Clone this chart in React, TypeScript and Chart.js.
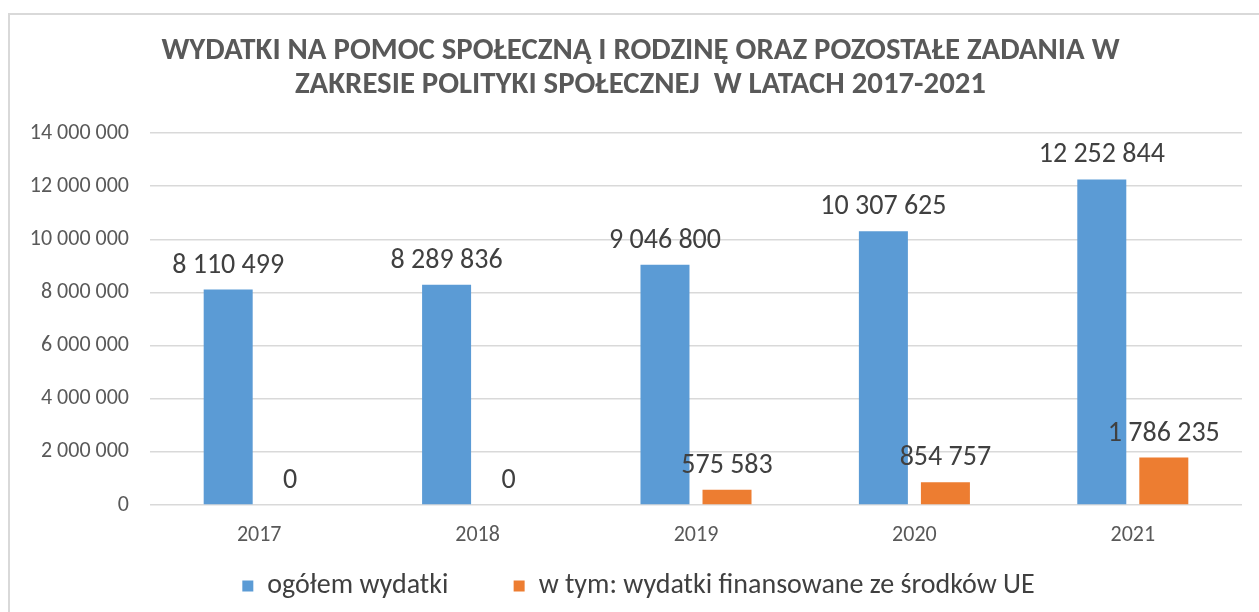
import React, { useEffect, useRef } from "react";
import { Chart, registerables } from "chart.js";

Chart.register(...registerables);

const categories = ["2017", "2018", "2019", "2020", "2021"];
const totalSpending = [8110499, 8289836, 9046800, 10307625, 12252844];
const euFunded = [0, 0, 575583, 854757, 1786235];
const seriesNames = ["ogółem wydatki", "w tym: wydatki finansowane ze środków UE"];
const titleLines = [
  "WYDATKI NA POMOC SPOŁECZNĄ I RODZINĘ ORAZ POZOSTAŁE ZADANIA W",
  "ZAKRESIE POLITYKI SPOŁECZNEJ  W LATACH 2017-2021",
];
const yMin = 0;
const yMax = 14000000;
const yStep = 2000000;

const FONT = "Carlito, Calibri, 'Liberation Sans Narrow', sans-serif";

const fmt = (v: number) => String(Math.round(v)).replace(/\B(?=(\d{3})+(?!\d))/g, " ");

const dataLabels = {
  id: "dataLabels",
  afterDatasetsDraw(chart: any) {
    const ctx = chart.ctx;
    ctx.save();
    ctx.font = `28px ${FONT}`;
    ctx.fillStyle = "#404040";
    ctx.textAlign = "center";
    ctx.textBaseline = "alphabetic";
    chart.data.datasets.forEach((ds: any, di: number) => {
      const meta = chart.getDatasetMeta(di);
      meta.data.forEach((bar: any, i: number) => {
        ctx.fillText(fmt(ds.data[i]), bar.x, bar.y - 17);
      });
    });
    ctx.restore();
  },
};

// nudges the full-width title and legend boxes so they are centred like the original
const centreShift = {
  id: "centreShift",
  afterLayout(chart: any) {
    if (chart.titleBlock) {
      chart.titleBlock.left += 7;
      chart.titleBlock.right += 7;
    }
    if (chart.legend) {
      chart.legend.left += 5;
      chart.legend.right += 5;
    }
  },
};

export default function App() {
  const ref = useRef<HTMLCanvasElement>(null);
  useEffect(() => {
    const defaultLabels = (Chart.defaults as any).plugins.legend.labels.generateLabels;
    const chart = new Chart(ref.current!, {
      type: "bar",
      data: {
        labels: categories,
        datasets: [
          {
            label: seriesNames[0],
            data: totalSpending,
            backgroundColor: "#5B9BD5",
            categoryPercentage: 0.568,
            barPercentage: 0.79,
          },
          {
            label: seriesNames[1],
            data: euFunded,
            backgroundColor: "#ED7D31",
            categoryPercentage: 0.568,
            barPercentage: 0.79,
          },
        ],
      },
      options: {
        responsive: false,
        animation: false,
        devicePixelRatio: 1,
        layout: { padding: { left: 15, right: 17, top: 0, bottom: 2 } },
        plugins: {
          title: {
            display: true,
            text: titleLines,
            color: "#595959",
            font: { family: FONT, size: 30.8, weight: "bold", lineHeight: 1.088 },
            padding: { top: 20, bottom: 31 },
          },
          legend: {
            position: "bottom",
            labels: {
              boxWidth: 11,
              boxHeight: 11,
              padding: 21,
              color: "#404040",
              font: { family: FONT, size: 28 },
              generateLabels: (c: any) =>
                defaultLabels(c).map((item: any, i: number) =>
                  i === 0 ? { ...item, text: item.text + "\u00a0\u00a0\u00a0\u00a0\u00a0\u00a0\u00a0" } : item
                ),
            },
          },
          tooltip: { enabled: false },
        },
        scales: {
          x: {
            grid: { display: false },
            border: { display: false },
            ticks: { color: "#595959", font: { family: FONT, size: 22 }, padding: 9 },
            afterFit: (s: any) => {
              s.height = 46;
            },
          },
          y: {
            min: yMin,
            max: yMax,
            grid: { color: "#d9d9d9", lineWidth: 1.5, drawTicks: false },
            border: { display: false },
            ticks: {
              stepSize: yStep,
              color: "#595959",
              font: { family: FONT, size: 22 },
              padding: 21,
              callback: (v: any) => fmt(Number(v)),
            },
            afterFit: (s: any) => {
              s.width = 125;
            },
          },
        },
      },
      plugins: [dataLabels, centreShift],
    });
    return () => chart.destroy();
  }, []);
  return (
    <div
      style={{
        position: "absolute",
        left: 8,
        top: 13,
        width: 1251,
        height: 599,
        borderTop: "2px solid #d9d9d9",
        borderLeft: "2px solid #d9d9d9",
        boxSizing: "border-box",
        background: "#fff",
      }}
    >
      <canvas ref={ref} width={1249} height={597} style={{ display: "block" }} />
    </div>
  );
}
